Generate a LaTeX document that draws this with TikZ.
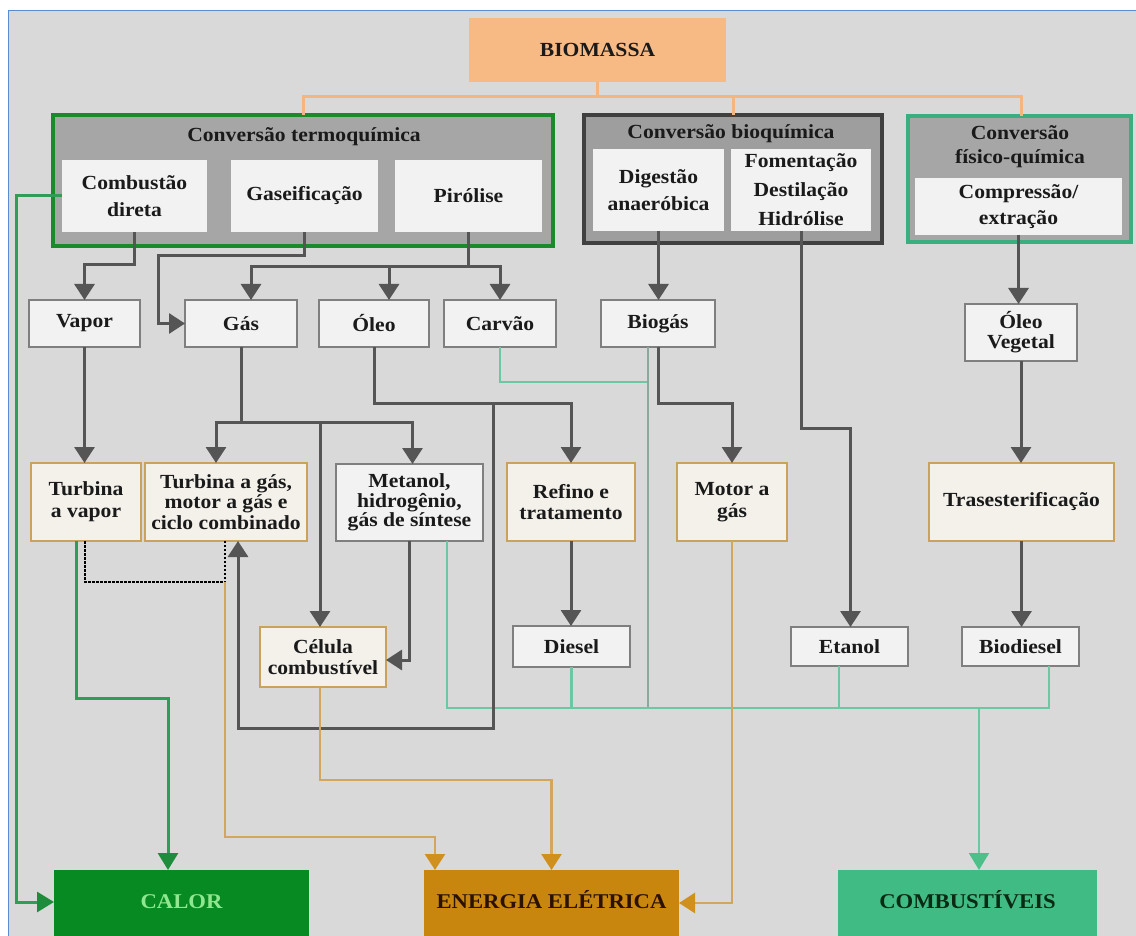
\documentclass[tikz,border=0pt]{standalone}
\usepackage{fontspec}
\setmainfont{Liberation Serif}[FakeStretch=1.08]
\usetikzlibrary{arrows.meta,calc}
\definecolor{bgc}{HTML}{D9D9D9}
\definecolor{bluebord}{HTML}{5B8BD0}
\definecolor{lightbox}{HTML}{F2F2F2}
\definecolor{hdr}{HTML}{A6A6A6}
\definecolor{gbord}{HTML}{7F7F7F}
\definecolor{tanbord}{HTML}{C9A35C}
\definecolor{tanfill}{HTML}{F4F1EB}
\definecolor{txt}{HTML}{1A1A1A}
\definecolor{biofill}{HTML}{F7BA85}
\definecolor{bioline}{HTML}{F5B57F}
\definecolor{thermog}{HTML}{1B8A2B}
\definecolor{biochemb}{HTML}{404040}
\definecolor{fisg}{HTML}{3AAE7E}
\definecolor{dkline}{HTML}{555555}
\definecolor{gnline}{HTML}{2F9C58}
\definecolor{gntip}{HTML}{1E8C3A}
\definecolor{orline}{HTML}{D2A65C}
\definecolor{ortip}{HTML}{D0901E}
\definecolor{tlline}{HTML}{6CC7A2}
\definecolor{tltip}{HTML}{4DC08A}
\definecolor{tlgray}{HTML}{8AA89C}
\definecolor{calorc}{HTML}{078A22}
\definecolor{calortxt}{HTML}{8FE88F}
\definecolor{energc}{HTML}{C9860E}
\definecolor{energtxt}{HTML}{2B1200}
\definecolor{combc}{HTML}{40BB84}
\definecolor{combtxt}{HTML}{0B2A14}
\newcommand\fsz[2]{\fontsize{#1}{#2}\selectfont\bfseries}
\begin{document}
\begin{tikzpicture}[x=1pt,y=-1pt,
  every node/.style={text=txt,font=\fsz{20}{22}},
  base/.style={rectangle,inner sep=0pt,outer sep=0pt,align=center},
  sz/.style 2 args={minimum width=#1pt,minimum height=#2pt},
  lbox/.style={base,fill=lightbox},
  gbox/.style={base,fill=lightbox,draw=gbord,line width=1.5pt},
  tbox/.style={base,fill=tanfill,draw=tanbord,line width=1.8pt},
  bigbox/.style={base,fill=hdr,line width=3.5pt},
  botbox/.style={base,text height=0pt,text depth=0pt,font=\fsz{21}{24}},
  dk/.style={draw=dkline,line width=3pt},
  dka/.style={dk,-{Triangle[width=20pt,length=16pt]}},
  dt/.style={draw=black,line width=1.6pt,dash pattern=on 2.5pt off 1.5pt},
  gna/.style={draw=gnline,line width=3pt,-{Triangle[width=20pt,length=17pt,color=gntip]}},
  ora/.style={draw=orline,line width=2.7pt,-{Triangle[width=20pt,length=16pt,color=ortip]}},
  tl/.style={draw=tlline,line width=2.2pt},
  tlg/.style={draw=tlgray,line width=2.2pt},
  tla/.style={tl,-{Triangle[width=20pt,length=17pt,color=tltip]}},
  bl/.style={draw=bioline,line width=3pt}
]
\useasboundingbox (0,0) rectangle (1136,936);
\fill[white] (0,0) rectangle (1136,936);
\fill[bgc] (8,11) rectangle (1136,936);
\draw[bluebord,line width=1pt] (8,940) -- (8,11) -- (1140,11);

% top
\node[base,fill=biofill,sz={257}{64}] (bio) at (597.5,50) {BIOMASSA};

% thermochemical
\node[bigbox,draw=thermog,sz={500}{131}] (thermo) at (303,180.5) {};
\node[base] (thermot) at (304,137) {Conversão termoquímica};
\node[lbox,sz={145}{72},font=\fsz{20}{27}] (comb) at (134.5,196) {Combustão\\direta};
\node[lbox,sz={147}{72}] (gasf) at (304.5,196) {Gaseificação};
\node[lbox,sz={147}{72}] (piro) at (468.5,196) {Pirólise};

% biochemical
\node[bigbox,draw=biochemb,fill=hdr!95!black,sz={298}{128}] (biochem) at (733,179) {};
\node[base] (biochemt) at (731,134) {Conversão bioquímica};
\node[lbox,sz={131}{82},font=\fsz{20}{27}] (dig) at (658.5,190) {Digestão\\anaeróbica};
\node[lbox,sz={140}{82},font=\fsz{20}{29}] (fom) at (801,190) {Fomentação\\Destilação\\Hidrólise};

% physico-chemical
\node[bigbox,draw=fisg,sz={223}{126}] (fis) at (1019.5,179) {};
\node[base,font=\fsz{20}{24}] (fist) at (1020,147) {Conversão\\físico-química};
\node[lbox,sz={207}{57},font=\fsz{20}{26}] (comp) at (1018.5,206.5) {Compressão/\\extração};

% level 2
\node[gbox,sz={111}{47}] (vapor) at (84.5,323.5) {Vapor};
\node[gbox,sz={112}{47}] (gas) at (241,323.5) {Gás};
\node[gbox,sz={110}{47}] (oleo) at (374,323.5) {Óleo};
\node[gbox,sz={112}{47}] (carvao) at (500,323.5) {Carvão};
\node[gbox,sz={114}{47}] (biogas) at (658,323.5) {Biogás};
\node[gbox,sz={112}{57},font=\fsz{20}{20}] (oleoveg) at (1021,332.5) {Óleo\\Vegetal};

% level 3
\node[tbox,sz={110}{78},font=\fsz{20}{22}] (tv) at (86,502) {Turbina\\a vapor};
\node[tbox,sz={162}{78},font=\fsz{20}{20.5}] (tg) at (226,502) {Turbina a gás,\\motor a gás e\\ciclo combinado};
\node[gbox,sz={147}{77},font=\fsz{20}{19.5}] (met) at (409.5,502.5) {Metanol,\\hidrogênio,\\gás de síntese};
\node[tbox,sz={128}{78},font=\fsz{20}{21}] (ref) at (571,502) {Refino e\\tratamento};
\node[tbox,sz={110}{78},font=\fsz{20}{22}] (motor) at (732,502) {Motor a\\gás};
\node[tbox,sz={185}{78}] (trans) at (1021.5,502) {Trasesterificação};

% level 4
\node[gbox,sz={117}{41}] (diesel) at (571.5,646.5) {Diesel};
\node[tbox,sz={126}{60},font=\fsz{20}{21}] (cel) at (323,657) {Célula\\combustível};
\node[gbox,sz={117}{39}] (etanol) at (849.5,646.5) {Etanol};
\node[gbox,sz={117}{39}] (biodiesel) at (1020.5,646.5) {Biodiesel};

% outputs
\node[botbox,fill=calorc,text=calortxt,sz={255}{76}] (calor) at (181.5,908) {CALOR};
\node[botbox,fill=energc,text=energtxt,sz={255}{76}] (energia) at (551.5,908) {ENERGIA ELÉTRICA};
\node[botbox,fill=combc,text=combtxt,sz={259}{76}] (combo) at (967.5,908) {COMBUSTÍVEIS};

% biomassa connectors
\draw[bl] (bio.south) -- ++(0,15) coordinate (bj) -| (thermo.north);
\draw[bl] (bj) -| (biochem.north);
\draw[bl] (bj) -| ([xshift=2pt]fis.north);

% teal (combustiveis)
\draw[tl] (carvao.south) |- ([xshift=-10pt,yshift=-35pt]biogas.south);
\draw[tlg] ([xshift=-10pt]biogas.south) -- ++(0,361);
\draw[tl] ([xshift=37.5pt]met.south) -- ++(0,167) -| ([xshift=28.5pt]biodiesel.south);
\draw[tl] (diesel.south) -- ++(0,41);
\draw[tl] ([xshift=-10.5pt]etanol.south) -- ++(0,42);
\coordinate (bus) at (979,708);
\draw[tla] (bus) -- (bus |- combo.north);

% dark connectors
\draw[dka] (comb.south) -- ++(0,33) -| (vapor.north);
\draw[dka] (gasf.south) -- ++(0,24) -| ($(gas.west)+(-27,0)$) -- (gas.west);
\draw[dk] (piro.south) -- ++(0,35) coordinate (pj);
\draw[dka] (pj) -| ([xshift=10pt]gas.north);
\draw[dka] (pj) -| ([xshift=15pt]oleo.north);
\draw[dka] (pj) -| (carvao.north);
\draw[dka] (dig.south) -- (dig.south |- biogas.north);
\draw[dka] (fom.south) -- ++(0,197) -| ([xshift=1pt]etanol.north);
\draw[dka] (comp.south) -- (comp.south |- oleoveg.north);
\draw[dka] (vapor.south) -- (vapor.south |- tv.north);
\draw[dk] (gas.south) -- ++(0,75) coordinate (gj);
\draw[dka] (gj) -| ([xshift=-10pt]tg.north);
\draw[dka] (gj) -| ([xshift=3pt]met.north);
\draw[dka] (gj) -| ([xshift=-3pt]cel.north);
\draw[dka] (met.south) |- ([yshift=-3pt]cel.east);
\draw[dka] (oleo.south) -- ++(0,56) -| (ref.north);
\coordinate (oj) at (493,403);
\draw[dka] (oj) -- ++(0,325) -| ([xshift=12pt]tg.south);
\draw[dka] (biogas.south) -- ++(0,56) -| (motor.north);
\draw[dka] (ref.south) -- (ref.south |- diesel.north);
\draw[dka] (oleoveg.south) -- (oleoveg.south |- trans.north);
\draw[dka] (trans.south) -- (trans.south |- biodiesel.north);

% dotted
\draw[dt] ([xshift=-1pt]tv.south) -- ++(0,41) -| ([xshift=-1pt]tg.south);

% green to calor
\draw[gna] (comb.west) -- ++(-46,0) |- ([yshift=6pt]calor.west);
\draw[gna] ([xshift=-10pt]tv.south) -- ++(0,157) -| ([xshift=-13.5pt]calor.north);

% orange to energia
\draw[ora] ([xshift=-1pt,yshift=-41pt]tg.south) -- ++(0,255) -| ([xshift=-116.5pt]energia.north);
\draw[ora] ([xshift=-3pt]cel.south) -- ++(0,93) -| (energia.north);
\draw[ora] (motor.south) |- ([yshift=5pt]energia.east);
\end{tikzpicture}
\end{document}
